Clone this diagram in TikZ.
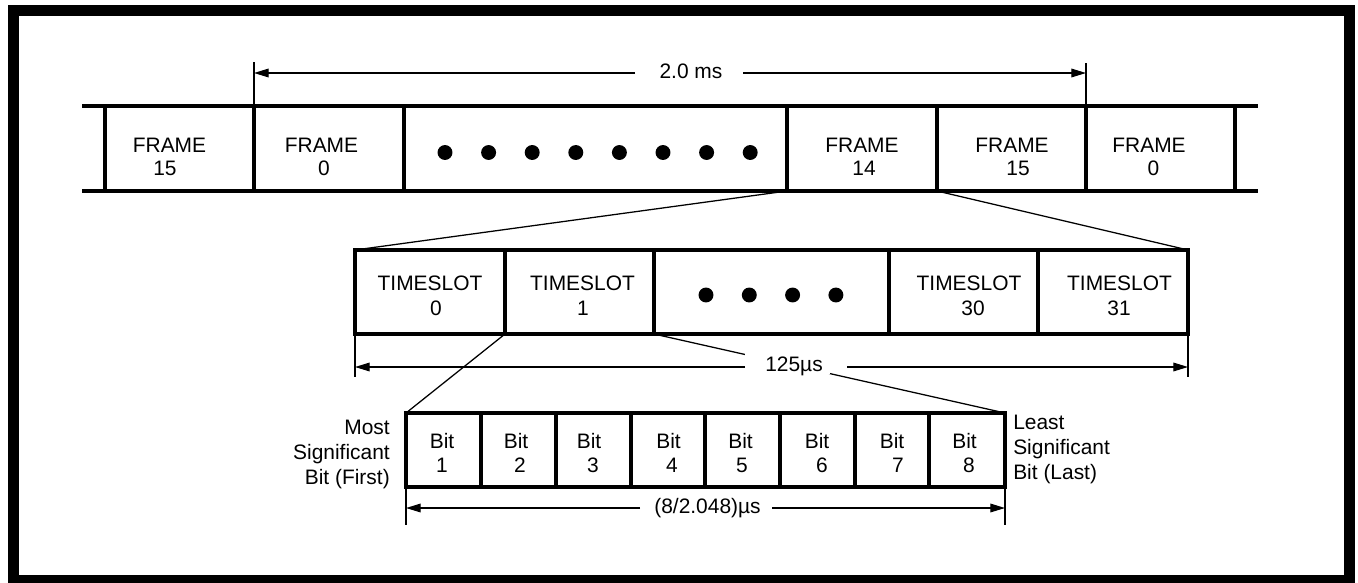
\documentclass[tikz,border=0pt]{standalone}
\usepackage{fontspec}
\setmainfont{Liberation Sans}
\usetikzlibrary{arrows.meta}
\tikzset{
  thick box/.style={line width=3pt},
  thin line/.style={line width=0.95pt},
  dimarrow/.style={line width=0.95pt,-{Triangle[length=11pt,width=6.5pt]}},
  lbl/.style={inner sep=0pt,font=\fontsize{15.7pt}{18pt}\selectfont,anchor=base},
  lblr/.style={lbl,anchor=base east},
  lbll/.style={lbl,anchor=base west},
  dot/.style={fill=black},
}
\begin{document}
\begin{tikzpicture}[x=0.75pt,y=-0.75pt]
\useasboundingbox (0,0) rectangle (1358,582);
% outer border
\draw[line width=8.25pt] (13.5,10.5) rectangle (1349.5,580.5);

% ---------- top frame row ----------
\draw[thick box] (82,106) -- (1258,106) (82,191) -- (1258,191);
\foreach \x in {105,254,404,787,937,1086,1235}
  \draw[thick box] (\x,106) -- (\x,191);
\coordinate (f14bl) at (787,191);
\coordinate (f15bl) at (937,191);
\node[lbl] (fa1) at (169.5,152) {FRAME};  \node[lbl] (fb1) at (165,175) {15};
\node[lbl] (fa2) at (321.5,152) {FRAME};  \node[lbl] (fb2) at (324,175) {0};
\node[lbl] (fa3) at (862,152) {FRAME};    \node[lbl] (fb3) at (864,175) {14};
\node[lbl] (fa4) at (1012,152) {FRAME};   \node[lbl] (fb4) at (1018,175) {15};
\node[lbl] (fa5) at (1149,152) {FRAME};   \node[lbl] (fb5) at (1153.5,175) {0};
\foreach \k in {0,...,7}
  \fill[dot] ({445+43.6*\k},152.5) circle[radius=5.6pt];

% 2.0 ms dimension
\coordinate (d1l) at (254,73);
\coordinate (d1r) at (1086,73);
\draw[thin line] (254,62) -- (254,106);
\draw[thin line] (1086,63) -- (1086,106);
\node[lbl] (t20) at (691,78) {2.0 ms};
\coordinate (g1l) at (635,73);
\coordinate (g1r) at (743,73);
\draw[dimarrow] (g1l) -- (d1l);
\draw[dimarrow] (g1r) -- (d1r);

% ---------- timeslot row ----------
\coordinate (tsTL) at (355,250);
\coordinate (tsTR) at (1188,250);
\coordinate (ts1BL) at (505,334);
\coordinate (ts1BR) at (654,334);
\draw[thin line] (f14bl) -- (tsTL);
\draw[thin line] (f15bl) -- (tsTR);
\draw[thick box] (355,250) rectangle (1188,334);
\foreach \x in {505,654,889,1038}
  \draw[thick box] (\x,250) -- (\x,334);
\node[lbl] (ta0) at (430,290) {TIMESLOT};  \node[lbl] (tb0) at (436,315) {0};
\node[lbl] (ta1) at (582.5,290) {TIMESLOT}; \node[lbl] (tb1) at (583,315) {1};
\node[lbl] (ta30) at (969,290) {TIMESLOT}; \node[lbl] (tb30) at (973,315) {30};
\node[lbl] (ta31) at (1119.5,290) {TIMESLOT}; \node[lbl] (tb31) at (1119,315) {31};
\foreach \k in {0,...,3}
  \fill[dot] ({706+43.3*\k},295) circle[radius=5.6pt];

% ---------- bits row ----------
\coordinate (bTL) at (406,413);
\coordinate (bTR) at (1005,413);
\draw[thin line] (ts1BL) -- (bTL);
\draw[thin line] (ts1BR) -- (bTR);

% 125 us dimension
\draw[thin line] (355,334) -- (355,377);
\draw[thin line] (1188,334) -- (1188,377);
\node[fill=white,inner sep=0pt,minimum width=85*0.75pt,minimum height=22*0.75pt] (gap2) at (787.5,363) {};
\node[lbl] (t125) at (794,371) {125µs};
\coordinate (d2l) at (355,367);
\coordinate (d2r) at (1188,367);
\coordinate (g2l) at (745,367);
\coordinate (g2r) at (847,367);
\draw[dimarrow] (g2l) -- (d2l);
\draw[dimarrow] (g2r) -- (d2r);

\draw[thick box] (406,413) rectangle (1005,487);
\foreach \x in {481,556,631,705,780,855,929}
  \draw[thick box] (\x,413) -- (\x,487);
\node[lbl] (ba1) at (442,448) {Bit};   \node[lbl] (bb1) at (442,472) {1};
\node[lbl] (ba2) at (516,448) {Bit};   \node[lbl] (bb2) at (520,472) {2};
\node[lbl] (ba3) at (589,448) {Bit};   \node[lbl] (bb3) at (593,472) {3};
\node[lbl] (ba4) at (668.5,448) {Bit}; \node[lbl] (bb4) at (672,472) {4};
\node[lbl] (ba5) at (740.5,448) {Bit}; \node[lbl] (bb5) at (742,472) {5};
\node[lbl] (ba6) at (817,448) {Bit};   \node[lbl] (bb6) at (822,472) {6};
\node[lbl] (ba7) at (892,448) {Bit};   \node[lbl] (bb7) at (898,472) {7};
\node[lbl] (ba8) at (964.5,448) {Bit}; \node[lbl] (bb8) at (969,472) {8};

% side labels
\node[lblr] (ms1) at (390,434) {Most};
\node[lblr] (ms2) at (390,459) {Significant};
\node[lblr] (ms3) at (390,484) {Bit (First)};
\node[lbll] (ls1) at (1013,429) {Least};
\node[lbll] (ls2) at (1013,454) {Significant};
\node[lbll] (ls3) at (1013,479) {Bit (Last)};

% (8/2.048) us dimension
\draw[thin line] (406,487) -- (406,525);
\draw[thin line] (1005,487) -- (1005,525);
\node[lbl] (t8) at (707.5,513) {(8/2.048)µs};
\coordinate (d3l) at (406,508);
\coordinate (d3r) at (1005,508);
\coordinate (g3l) at (640,508);
\coordinate (g3r) at (772,508);
\draw[dimarrow] (g3l) -- (d3l);
\draw[dimarrow] (g3r) -- (d3r);
\end{tikzpicture}
\end{document}
